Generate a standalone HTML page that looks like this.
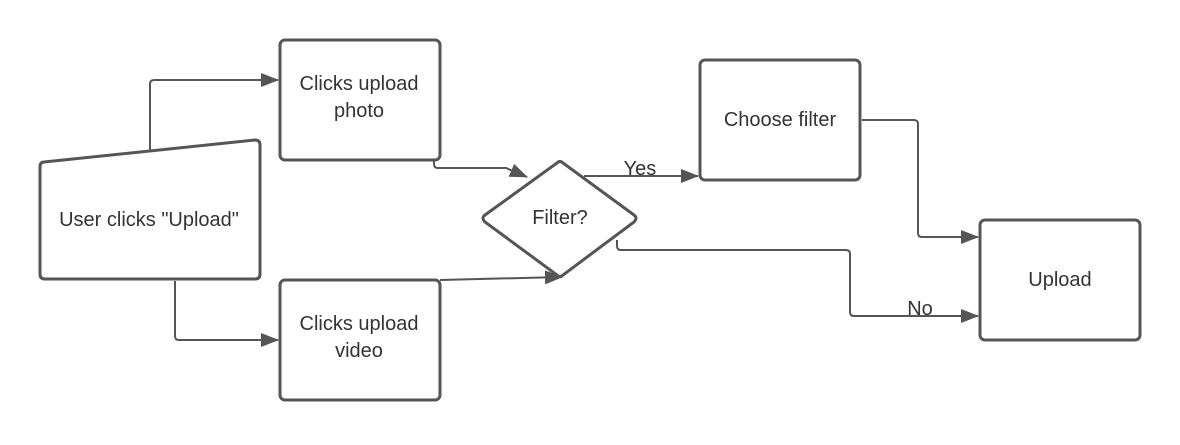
<!DOCTYPE html>
<html><head><style>body{margin:0;background:#fff}svg text{font-family:"Liberation Sans",sans-serif;fill:#333;font-size:20px}</style></head><body>
<svg width="1180" height="440" xmlns="http://www.w3.org/2000/svg">
<defs><marker id="a" markerWidth="18" markerHeight="14" refX="17" refY="7" orient="auto" markerUnits="userSpaceOnUse"><path d="M0,0 L18,7 L0,14 z" fill="#555"/></marker></defs>
<g fill="none" stroke="#555" stroke-width="2">
<path d="M150,151 V84 Q150,80 154,80 H278" marker-end="url(#a)"/>
<path d="M175,281 V336 Q175,340 179,340 H278" marker-end="url(#a)"/>
<path d="M434,161 V164 Q434,168 438,168 H506 L527,177" marker-end="url(#a)"/>
<path d="M440,280 L562,277" marker-end="url(#a)"/>
<path d="M584,176 H698" marker-end="url(#a)"/>
<path d="M617,240 V246 Q617,250 621,250 H846 Q850,250 850,254 V312 Q850,316 854,316 H978" marker-end="url(#a)"/>
<path d="M862,120 H914 Q918,120 918,124 V233 Q918,237 922,237 H978" marker-end="url(#a)"/>
</g>
<g fill="#fff" stroke="#555" stroke-width="3">
<rect x="280" y="40" width="160" height="120" rx="5"/>
<rect x="280" y="280" width="160" height="120" rx="5"/>
<rect x="700" y="60" width="160" height="120" rx="5"/>
<rect x="980" y="220" width="160" height="120" rx="5"/>
<path d="M44,162 L255,140 Q260,140 260,145 V274 Q260,279 255,279 H45 Q40,279 40,274 V167 Q40,162 44,162 Z"/>
<path d="M557,163 Q560,160 563,163 L634,215 Q638,218 634,222 L563,275 Q560,278 557,275 L485,222 Q481,218 485,215 Z"/>
</g>
<g text-anchor="middle">
<text x="359" y="90">Clicks upload</text><text x="359" y="117">photo</text>
<text x="359" y="330">Clicks upload</text><text x="359" y="357">video</text>
<text x="149" y="226">User clicks "Upload"</text>
<text x="560" y="224">Filter?</text>
<text x="780" y="126">Choose filter</text>
<text x="1060" y="286">Upload</text>
<text x="640" y="175">Yes</text>
<text x="920" y="315">No</text>
</g>
</svg>
</body></html>
